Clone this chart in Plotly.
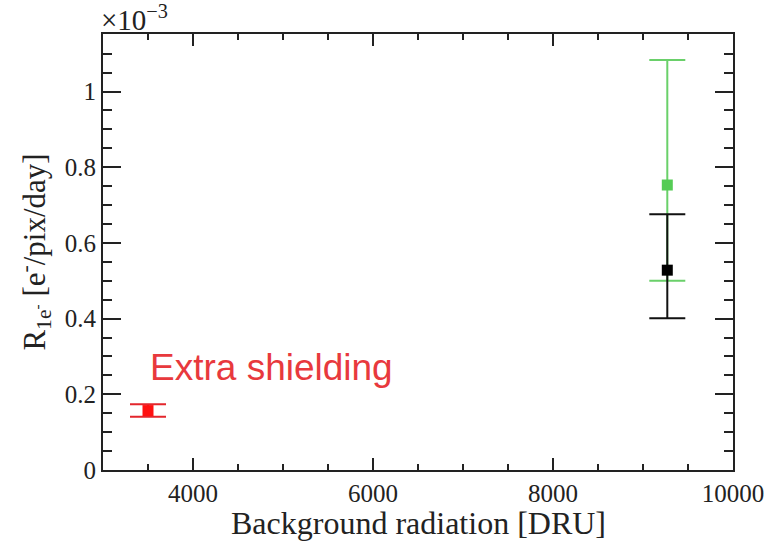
import plotly.graph_objects as go

# values in units of 1e-3 e-/pix/day
names = ["Extra shielding", "Green", "Black"]
x_dru = [3500, 9270, 9270]
rate = [0.157, 0.753, 0.528]
err_plus = [0.017, 0.330, 0.148]
err_minus = [0.016, 0.253, 0.127]
marker_colors = ["#ff1010", "#55cc55", "#000000"]
bar_colors = ["#e3262c", "#6ad06a", "#111111"]

x_range = [3000, 10000]
y_range = [0, 1.152]

fig = go.Figure()
for i in range(len(names)):
    fig.add_trace(go.Scatter(
        x=[x_dru[i]], y=[rate[i]], mode="markers",
        marker=dict(symbol="square", size=11, color=marker_colors[i]),
        error_y=dict(type="data", symmetric=False,
                     array=[err_plus[i]], arrayminus=[err_minus[i]],
                     color=bar_colors[i], thickness=2, width=18),
        showlegend=False, name=names[i]))

serif = "Liberation Serif"
fig.update_layout(
    width=769, height=542,
    margin=dict(l=103, r=36, t=34, b=72),
    plot_bgcolor="white", paper_bgcolor="white",
    font=dict(family=serif, size=26, color="#222"),
    xaxis=dict(range=x_range, tick0=4000, dtick=2000, ticks="inside",
               tickformat="d", automargin=False,
               ticklen=12, tickwidth=2, tickcolor="#222",
               showline=True, linecolor="#222", linewidth=2, mirror="allticks",
               showgrid=False, zeroline=False,
               minor=dict(dtick=500, tick0=3000, ticks="inside", ticklen=6,
                          tickwidth=2, tickcolor="#222", showgrid=False),
               tickfont=dict(family=serif, size=25, color="#222")),
    yaxis=dict(range=y_range, tick0=0, dtick=0.2, ticks="inside",
               automargin=False,
               ticklen=18, tickwidth=2, tickcolor="#222",
               showline=True, linecolor="#222", linewidth=2, mirror="allticks",
               showgrid=False, zeroline=False,
               minor=dict(dtick=0.05, tick0=0, ticks="inside", ticklen=9,
                          tickwidth=2, tickcolor="#222", showgrid=False),
               tickfont=dict(family=serif, size=25, color="#222"),
               title=dict(text="R<sub>1e<sup>-</sup></sub> [e<sup>-</sup>/pix/day]",
                          font=dict(family=serif, size=31, color="#222"),
                          standoff=10)),
)

fig.add_annotation(xref="paper", yref="paper", x=0.5, y=0, xanchor="center", yanchor="top",
                   text="Background radiation [DRU]", showarrow=False, yshift=-33,
                   font=dict(family=serif, size=32, color="#222"))
fig.add_annotation(xref="paper", yref="paper", x=0, y=1, xanchor="left", yanchor="bottom",
                   text="×10<sup>−3</sup>", showarrow=False, yshift=-4, xshift=-4,
                   font=dict(family=serif, size=29, color="#222"))
fig.add_annotation(xref="x", yref="y", x=3500, y=0.272, xanchor="left", yanchor="middle",
                   text="Extra shielding", showarrow=False,
                   font=dict(family="Liberation Sans", size=37, color="#e8393d"))

fig.write_html("out.html", config={"displayModeBar": False},
               post_script="document.body.style.margin='0';document.body.style.overflow='hidden';")
